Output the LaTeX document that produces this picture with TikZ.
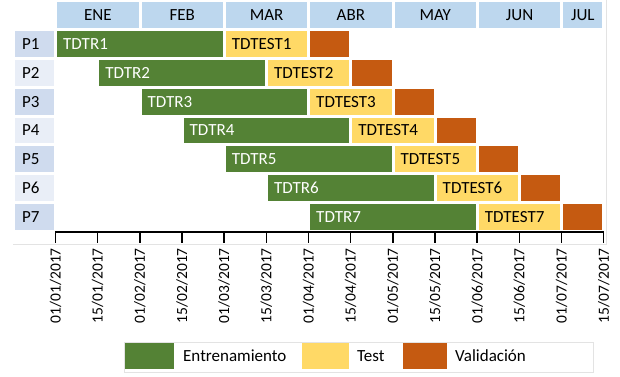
\documentclass[tikz,border=0pt]{standalone}
\usepackage{fontspec}
\setmainfont{Carlito}
\usetikzlibrary{positioning}
\definecolor{mes}{HTML}{BDD7EE}
\definecolor{filaA}{HTML}{CFDBEE}
\definecolor{filaB}{HTML}{E9EEF7}
\definecolor{entr}{HTML}{548235}
\definecolor{test}{HTML}{FFD966}
\definecolor{valid}{HTML}{C55A11}
\definecolor{rejilla}{HTML}{E3E3E3}

\begin{document}
\begin{tikzpicture}[x=1pt, y=-1pt,
  celda/.style={anchor=north west, minimum height=25.8pt, inner ysep=0pt,
    inner xsep=6pt, align=left, font=\fontsize{17}{17}\selectfont},
  fecha/.style={rotate=90, anchor=east, inner sep=0pt, font=\fontsize{15.5}{15.5}\selectfont},
  muestra/.style={anchor=north west, minimum width=49pt, minimum height=26pt, inner sep=0pt},
  leyenda/.style={anchor=west, inner sep=0pt, font=\fontsize{17}{17}\selectfont}]
 \useasboundingbox (0,0) rectangle (620,376);
 % meses
 \foreach \mes [count=\i from 0] in {ENE,FEB,MAR,ABR,MAY,JUN}
  \node[celda, fill=mes, align=center, text width=69.34pt] (m-\i) at ({57+84.34*\i},2.2) {\mes};
 \node[celda, fill=mes, align=center, text width=27.17pt] (m-6) at (563.04,2.2) {JUL};
 % filas
 \foreach \k in {1,...,7}{
  \pgfmathsetmacro\y{31+28.8*(\k-1)}
  \pgfmathsetmacro\xa{57+42.17*(\k-1)}
  \pgfmathsetmacro\xb{\xa+42.17*4}
  \pgfmathsetmacro\xc{\xb+42.17*2}
  \pgfmathparse{mod(\k,2)==1 ? "filaA" : "filaB"}
  \edef\colfila{\pgfmathresult}
  \node[celda, fill=\colfila, inner xsep=7pt, text width=25.2pt] (p-\k) at (14.8,\y) {P\k};
  \node[celda, fill=entr, text=white, text width=153.68pt] (tr-\k) at (\xa,\y) {TDTR\k};
  \node[celda, fill=test, text width=69.34pt] (te-\k) at (\xb,\y) {TDTEST\k};
  \node[celda, fill=valid, text width=27.17pt] (va-\k) at (\xc,\y) {};
 }
 % rejilla
 \draw[rejilla, line width=0.8pt] (606,0) -- (606,244) -- (13,244);
 % eje
 \coordinate (e-0) at (55.5,232);
 \coordinate (e-13) at (603.7,232);
 \draw[line width=1.8pt] (e-0) -- (e-13);
 \foreach \dd/\mm [count=\i from 0] in {01/01,15/01,01/02,15/02,01/03,15/03,01/04,
   15/04,01/05,15/05,01/06,15/06,01/07,15/07}{
  \draw[line width=1.5pt] ({55.5+42.17*\i},231) -- ({55.5+42.17*\i},243);
  \node[fecha] (f-\i) at ({55.5+42.17*\i},248) {\dd/\mm/2017};
 }
 % leyenda
 \draw[rejilla, line width=0.8pt] (124,342) rectangle (593,372);
 \node[muestra, fill=entr] (l-1) at (125,343) {};
 \node[leyenda] (lt-1) at (183,356) {Entrenamiento};
 \node[muestra, fill=test, minimum width=47pt] (l-2) at (302,343) {};
 \node[leyenda] (lt-2) at (357,356) {Test};
 \node[muestra, fill=valid, minimum width=44pt] (l-3) at (403,343) {};
 \node[leyenda] (lt-3) at (455,356) {Validación};
\end{tikzpicture}
\end{document}
